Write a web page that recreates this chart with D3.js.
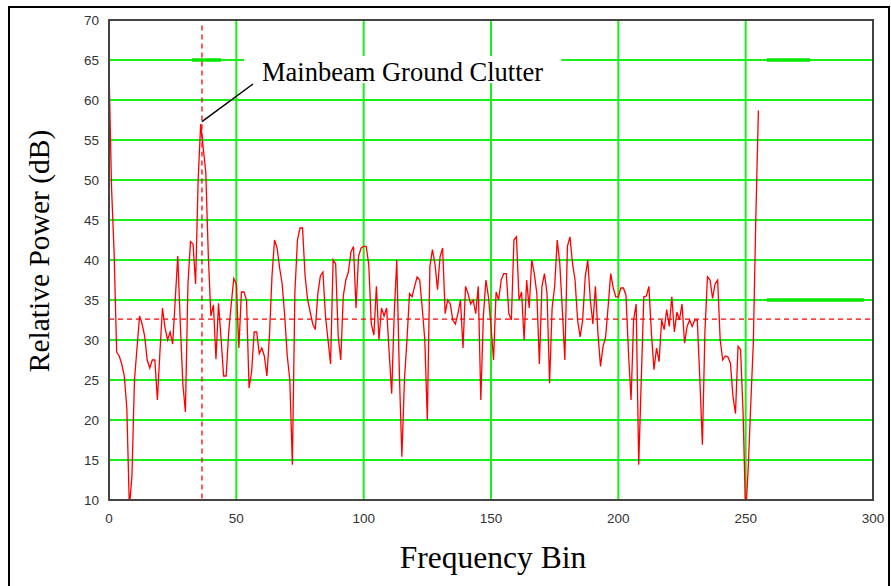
<!DOCTYPE html>
<html>
<head>
<meta charset="utf-8">
<script src="https://cdn.jsdelivr.net/npm/d3@7"></script>
<style>
  html, body { margin: 0; padding: 0; background: #fff; }
  svg { display: block; }
  .tick-label { font-family: "Liberation Sans", Arial, sans-serif; font-size: 13.5px; fill: #333; }
  .title { font-family: "Liberation Serif", "Times New Roman", serif; fill: #000; }
</style>
</head>
<body>
<div id="chart"></div>
<script>
// relative power per frequency bin (bin = index)
var power = [
  64, 49, 41, 28.5, 28, 27, 25.5, 21.5, 9, 13,
  25, 29, 33, 32, 30.5, 27.5, 26.5, 27.5, 27.5, 22.5,
  28.5, 34, 31.5, 30, 31, 29.5, 35, 40.5, 32, 24.5,
  21, 37, 42.3, 42, 37, 50, 57, 54, 51, 40.5,
  33, 34.4, 27.6, 34.6, 30.2, 25.5, 25.5, 31, 34.5, 37.7,
  37, 29, 36, 36, 35, 24, 26, 31, 31, 28.3,
  29, 28, 25.5, 30.5, 38, 42.5, 41.5, 39, 37, 33,
  28, 25, 14.4, 36, 42.5, 44, 44, 38, 35, 33.5,
  32, 31.3, 35.8, 38, 38.5, 33, 30, 27, 40, 39.5,
  30.5, 27.5, 35.5, 37.5, 38.5, 41, 41.7, 34, 40.5, 41.5,
  41.7, 41.7, 39.4, 32, 30.6, 36.7, 30, 34, 33, 34,
  28.5, 23.3, 33.3, 40, 26, 15.4, 25, 30, 35.8, 35.4,
  36.7, 37.9, 37.5, 34, 30, 20, 39.2, 41.3, 39.5, 36.3,
  40.4, 41.5, 33.3, 35, 34.5, 32.5, 32, 33.3, 35, 29,
  36.7, 35.8, 34.5, 35, 33.3, 36.7, 22.5, 33, 37.5, 35.4,
  31.7, 27.5, 36, 35, 37.5, 38.3, 38.3, 33.3, 32.5, 42.5,
  42.9, 35, 36, 30, 37.5, 34, 40, 38.3, 35.8, 27,
  36.7, 38.3, 35.8, 24.6, 34, 36.7, 42.5, 39.6, 33.8, 27.5,
  41.7, 42.9, 39.6, 37.5, 32.5, 30.4, 32.5, 37.9, 40, 35,
  32, 36.7, 30.8, 26.7, 29.2, 30.4, 34.2, 38.3, 36.5, 35.4,
  35.4, 36.5, 36.5, 35.6, 28.3, 22.5, 32.5, 34.5, 14.4, 25,
  35.4, 35.5, 36.7, 30.8, 26.3, 29, 27.3, 32.5, 31.3, 33.8,
  31.7, 35.4, 31, 33.5, 32.5, 34.5, 29.6, 31.7, 32.5, 31.7,
  32.5, 32.5, 25.2, 16.9, 31, 37.9, 37.5, 35.2, 37, 37.5,
  30, 27.5, 28, 27.9, 27.1, 23, 20.8, 29.2, 28.8, 20.8,
  8, 14, 22, 29.6, 45.4, 58.7
];
var xTicks = [0, 50, 100, 150, 200, 250, 300];
var yTicks = [10, 15, 20, 25, 30, 35, 40, 45, 50, 55, 60, 65, 70];
var meanLevel = 32.6;      // dashed horizontal reference
var mainbeamBin = 36.5;    // dashed vertical marker
var annotation = "Mainbeam Ground Clutter";
// short heavy green segments left on the grid: [x0, x1, y]
var legendDashes = [[32.6, 44, 65], [258.3, 275.2, 65], [258.3, 296.4, 35]];

var W = 891, H = 586;
var margin = { top: 20, right: 18, bottom: 86, left: 109 };

var svg = d3.select("#chart").append("svg")
    .attr("width", W).attr("height", H);

// outer frame
svg.append("rect")
    .attr("x", 9).attr("y", 7).attr("width", 880).attr("height", 600)
    .attr("fill", "none").attr("stroke", "#000").attr("stroke-width", 2);

var x = d3.scaleLinear().domain([0, 300]).range([margin.left, W - margin.right]);
var y = d3.scaleLinear().domain([10, 70]).range([H - margin.bottom, margin.top]);

svg.append("clipPath").attr("id", "plotClip")
  .append("rect")
    .attr("x", x(0)).attr("y", y(70))
    .attr("width", x(300) - x(0)).attr("height", y(10) - y(70));

var green = "#18f018";
var grid = svg.append("g");
grid.selectAll(".hgrid")
    .data(yTicks.slice(1, -1))
    .enter().append("line")
    .attr("x1", x(0)).attr("x2", x(300))
    .attr("y1", function (d) { return y(d); })
    .attr("y2", function (d) { return y(d); })
    .attr("stroke", green).attr("stroke-width", 2);
grid.selectAll(".vgrid")
    .data(xTicks.slice(1, -1))
    .enter().append("line")
    .attr("y1", y(10)).attr("y2", y(70))
    .attr("x1", function (d) { return x(d); })
    .attr("x2", function (d) { return x(d); })
    .attr("stroke", green).attr("stroke-width", 2);
grid.selectAll(".ldash")
    .data(legendDashes)
    .enter().append("line")
    .attr("x1", function (d) { return x(d[0]); })
    .attr("x2", function (d) { return x(d[1]); })
    .attr("y1", function (d) { return y(d[2]); })
    .attr("y2", function (d) { return y(d[2]); })
    .attr("stroke", "#00e600").attr("stroke-width", 3.5);

// reference lines
svg.append("line")
    .attr("x1", x(0)).attr("x2", x(300))
    .attr("y1", y(meanLevel)).attr("y2", y(meanLevel))
    .attr("stroke", "#ff0000").attr("stroke-width", 1.3)
    .attr("stroke-dasharray", "5,4");
svg.append("line")
    .attr("x1", x(mainbeamBin)).attr("x2", x(mainbeamBin))
    .attr("y1", y(69.3)).attr("y2", y(10))
    .attr("stroke", "#ff0000").attr("stroke-width", 1.3)
    .attr("stroke-dasharray", "5,4");

// spectrum
var line = d3.line()
    .x(function (d, i) { return x(i); })
    .y(function (d) { return y(d); });
svg.append("path")
    .datum(power)
    .attr("clip-path", "url(#plotClip)")
    .attr("d", line)
    .attr("fill", "none")
    .attr("stroke", "#ff0000")
    .attr("stroke-width", 1.3);

// plot border
svg.append("rect")
    .attr("x", x(0)).attr("y", y(70))
    .attr("width", x(300) - x(0)).attr("height", y(10) - y(70))
    .attr("fill", "none").attr("stroke", "#444").attr("stroke-width", 2);

// tick labels
svg.selectAll(".ylab")
    .data(yTicks)
    .enter().append("text")
    .attr("class", "tick-label")
    .attr("x", x(0) - 10)
    .attr("y", function (d) { return y(d) + 5; })
    .attr("text-anchor", "end")
    .text(function (d) { return d; });
svg.selectAll(".xlab")
    .data(xTicks)
    .enter().append("text")
    .attr("class", "tick-label")
    .attr("x", function (d) { return x(d); })
    .attr("y", y(10) + 23)
    .attr("text-anchor", "middle")
    .text(function (d) { return d; });

// annotation
var note = svg.append("g");
var noteText = note.append("text")
    .attr("class", "title")
    .attr("x", 262).attr("y", 81)
    .attr("font-size", 26.5)
    .text(annotation);
var bb = noteText.node().getBBox();
note.insert("rect", "text")
    .attr("x", bb.x - 18).attr("y", y(65) - 4)
    .attr("width", bb.width + 36).attr("height", bb.y + bb.height - y(65))
    .attr("fill", "#fff");
note.append("line")
    .attr("x1", x(mainbeamBin)).attr("y1", y(57.3))
    .attr("x2", 253).attr("y2", 84)
    .attr("stroke", "#000").attr("stroke-width", 1.5);

// axis titles
svg.append("text")
    .attr("class", "title")
    .attr("transform", "translate(49," + 251 + ") rotate(-90)")
    .attr("text-anchor", "middle")
    .attr("font-size", 29.5)
    .text("Relative Power (dB)");
svg.append("text")
    .attr("class", "title")
    .attr("x", 493).attr("y", 568)
    .attr("text-anchor", "middle")
    .attr("font-size", 31.5)
    .text("Frequency Bin");
</script>
</body>
</html>
